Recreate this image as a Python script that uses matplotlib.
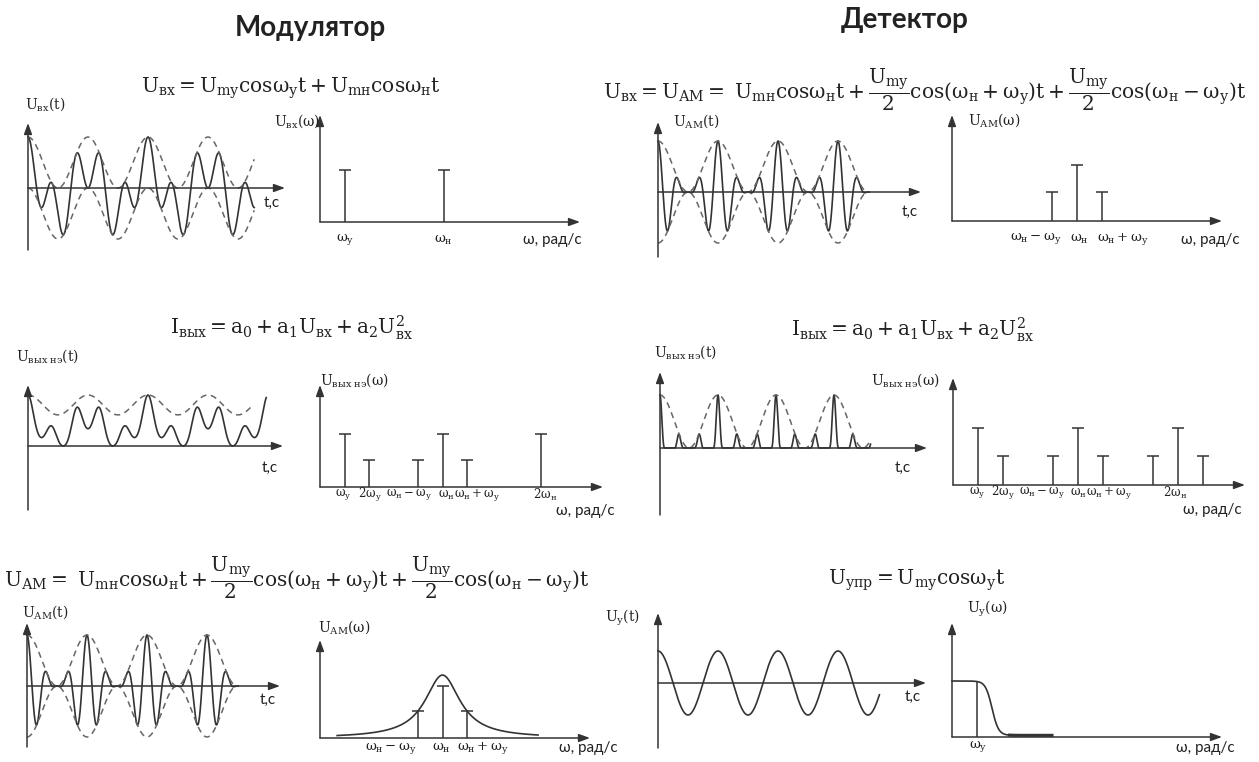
import numpy as np
import matplotlib
matplotlib.use('Agg')
import matplotlib.pyplot as plt
from matplotlib.transforms import offset_copy

W, H = 1259, 762
INK = '#333333'
DASH = '#666666'
LW = 1.1

plt.rcParams['mathtext.fontset'] = 'custom'
plt.rcParams['mathtext.rm'] = 'DejaVu Serif'
plt.rcParams['mathtext.it'] = 'DejaVu Serif:italic'
plt.rcParams['mathtext.bf'] = 'DejaVu Serif:bold'
SANS = ['Lato', 'DejaVu Sans']

# ---------------- values ----------------
# time plots: t in periods of the control signal, amplitude normalised
in_ratio = 2.5              # w_н / w_у on the input plot
in_len = 3.77
nl_coef = [1.0, 0.15]       # a1, a2
nl_len = 3.97
nl_env = [0.805, 0.195]     # dashed envelope: mean, swing
nl_env_len = 3.72
am_ratio = 3                # carrier cycles per envelope period
am_len = 3.52
det_len = 3.63
upr_len = 3.69

# spectra: w in units of w_у, amplitude relative to the carrier line
sp_in_w = [1, 5]
sp_in_a = [1, 1]
sp_in_lab = [r'\omega_{у}', r'\omega_{н}']

sp_nl_w = [1, 2, 4, 5, 6, 9]
sp_nl_a = [1, 0.5, 0.5, 1, 0.5, 1]
sp_nl_lab = [r'\omega_{у}', r'2\omega_{у}', r'\omega_{н} - \omega_{у}',
             r'\omega_{н}', r'\omega_{н} + \omega_{у}', r'2\omega_{н}']

sp_am_w = [4, 5, 6]
sp_am_a = [0.52, 1, 0.52]
sp_am_lab = [r'\omega_{н} - \omega_{у}', r'\omega_{н}', r'\omega_{н} + \omega_{у}']
res_peak = 1.21
res_k = 1.15
res_span = [0.7, 8.9]

sp_det_w = [1, 2, 4, 5, 6, 8, 9, 10]
sp_det_a = [1, 0.5, 0.5, 1, 0.5, 0.5, 1, 0.5]
sp_det_lab = [r'\omega_{у}', r'2\omega_{у}', r'\omega_{н} - \omega_{у}',
              r'\omega_{н}', r'\omega_{н} + \omega_{у}', r'2\omega_{н}']

lpf_cut = 1.6
lpf_slope = 0.13
lpf_floor = 0.03
lpf_span = [0, 4.0]

fig = plt.figure(figsize=(W / 100, H / 100), dpi=100)
fig.patch.set_facecolor('white')


def px(x, y):
    return x / W, 1 - y / H


def ftext(x, y, s, size=10, ha='center', **kw):
    fig.text(*px(x, y), s, ha=ha, va='center', fontsize=size, color='#222222', **kw)


def m(s):
    return r'$\mathrm{' + s + '}$'


def panel(origin, unit, box, x_end, y_top, y_bot):
    ox, oy = origin
    ux, uy = unit
    l, t, r, b = box
    ax = fig.add_axes([l / W, 1 - b / H, (r - l) / W, (b - t) / H])
    ax.set_xlim((l - ox) / ux, (r - ox) / ux)
    ax.set_ylim((oy - b) / uy, (oy - t) / uy)
    ax.axis('off')
    kw = dict(arrowstyle='-|>,head_length=0.55,head_width=0.2', color=INK,
              lw=LW, shrinkA=0, shrinkB=0, mutation_scale=12)
    ax.annotate('', xy=((x_end - ox) / ux, 0), xytext=(0, 0), arrowprops=kw)
    ax.annotate('', xy=(0, (oy - y_top) / uy), xytext=(0, (oy - y_bot) / uy),
                arrowprops=kw)
    return ax


def stems(ax, w, a):
    ax.vlines(w, 0, a, color=INK, lw=LW)
    ax.plot(w, a, ls='none', marker='_', ms=9, mew=LW, color=INK)


def wlabels(ax, xs, labs, has, dy=18, size=9.5):
    tr = offset_copy(ax.transData, fig=fig, y=-dy, units='dots')
    for x, s, ha in zip(xs, labs, has):
        ax.text(x, 0, m(s), transform=tr, ha=ha, va='center', fontsize=size,
                color='#222222')


def dashed(ax, t, y):
    ax.plot(t, y, color=DASH, lw=LW, ls=(0, (4, 3)))


def solid(ax, t, y):
    ax.plot(t, y, color=INK, lw=1.2)


# ---------------- titles and formulas ----------------
ftext(310, 28, 'Модулятор', size=20, weight='bold', family=SANS)
ftext(905, 20, 'Детектор', size=20, weight='bold', family=SANS)

am_tail = (r'U_{mн}cos\omega_{н}t + \dfrac{U_{mу}}{2}cos(\omega_{н} + \omega_{у})t'
           r' + \dfrac{U_{mу}}{2}cos(\omega_{н} - \omega_{у})t')
ftext(291, 88, m(r'U_{вх} = U_{mу}cos\omega_{у}t + U_{mн}cos\omega_{н}t'), size=14.5)
ftext(925, 90, m(r'U_{вх} = U_{АМ} =\ ' + am_tail), size=14.5)
ftext(291, 328, m(r'I_{вых} = a_{0} + a_{1}U_{вх} + a_{2}U_{вх}^{2}'), size=14.5)
ftext(912, 330, m(r'I_{вых} = a_{0} + a_{1}U_{вх} + a_{2}U_{вх}^{2}'), size=14.5)
ftext(297, 578, m(r'U_{АМ} =\ ' + am_tail), size=14.5)
ftext(917, 580, m(r'U_{упр} = U_{mу}cos\omega_{у}t'), size=14.5)

# ---------------- Modulator, row 1: input ----------------
ax = panel((28, 188), (60, 51), (20, 115, 295, 255), 285, 123, 250)
t = np.linspace(0, in_len, 1500)
th = 2 * np.pi * t
solid(ax, t, 0.5 * (np.cos(th) + np.cos(in_ratio * th)))
dashed(ax, t, 0.5 * np.cos(th) + 0.5)
dashed(ax, t, 0.5 * np.cos(th) - 0.5)
ftext(45, 104, m(r'U_{вх}(t)'), size=10)
ftext(272, 203, 't,c', size=11, family=SANS)

ax = panel((320, 222), (24.75, 52), (310, 108, 590, 230), 580, 115, 222)
stems(ax, sp_in_w, sp_in_a)
wlabels(ax, sp_in_w, sp_in_lab, ['center'] * 2)
ftext(320, 121, m(r'U_{вх}(\omega)'), size=10, ha='right')
ftext(552, 240, 'ω, рад/с', size=11, family=SANS)

# ---------------- Modulator, row 2: nonlinear element ----------------
ax = panel((28, 446), (60, 51), (20, 378, 295, 515), 283, 385, 510)
t = np.linspace(0, nl_len, 1500)
th = 2 * np.pi * t
u = np.cos(th) + np.cos(in_ratio * th)
f = nl_coef[0] * u + nl_coef[1] * u ** 2
f = f - f.min()
solid(ax, t, f / f.max())
t = np.linspace(0, nl_env_len, 800)
dashed(ax, t, nl_env[0] + nl_env[1] * np.cos(2 * np.pi * t))
ftext(48, 356, m(r'U_{вых\ нэ}(t)'), size=10)
ftext(270, 468, 't,c', size=11, family=SANS)

ax = panel((320, 487), (24.5, 53), (310, 378, 612, 495), 603, 385, 487)
stems(ax, sp_nl_w, sp_nl_a)
wlabels(ax, [0.95, 2.05, 4.6, 5.15, 5.45, 9.2], sp_nl_lab,
        ['center', 'center', 'right', 'center', 'left', 'center'], dy=8, size=8.5)
ftext(320, 380, m(r'U_{вых\ нэ}(\omega)'), size=10, ha='left')
ftext(585, 511, 'ω, рад/с', size=11, family=SANS)

# ---------------- Modulator, row 3: AM ----------------
ax = panel((27, 686), (60, 51), (20, 615, 290, 752), 280, 623, 747)
t = np.linspace(0, am_len, 1500)
th = 2 * np.pi * t
env = 0.5 * (1 + np.cos(th))
solid(ax, t, env * np.cos(am_ratio * th))
dashed(ax, t, env)
dashed(ax, t, -env)
ftext(45, 612, m(r'U_{АМ}(t)'), size=10)
ftext(268, 700, 't,c', size=11, family=SANS)

ax = panel((320, 738), (24.5, 52), (310, 632, 597, 746), 590, 640, 738)
w = np.linspace(res_span[0], res_span[1], 600)
ax.plot(w, res_peak / (1 + (res_k * (w - sp_am_w[1])) ** 2), color=INK, lw=1.2)
stems(ax, sp_am_w, sp_am_a)
wlabels(ax, [3.95, 4.95, 5.6], sp_am_lab, ['right', 'center', 'left'], dy=10)
ftext(318, 627, m(r'U_{АМ}(\omega)'), size=10, ha='left')
ftext(588, 748, 'ω, рад/с', size=11, family=SANS)

# ---------------- Detector, row 1: AM input ----------------
ax = panel((658, 192), (60, 51), (650, 115, 930, 262), 921, 122, 257)
t = np.linspace(0, am_len, 1500)
th = 2 * np.pi * t
env = 0.5 * (1 + np.cos(th))
solid(ax, t, env * np.cos(am_ratio * th))
dashed(ax, t, env)
dashed(ax, t, -env)
ftext(696, 121, m(r'U_{АМ}(t)'), size=10)
ftext(910, 212, 't,c', size=11, family=SANS)

ax = panel((952, 221), (25, 56), (945, 108, 1232, 228), 1222, 115, 221)
stems(ax, sp_am_w, sp_am_a)
wlabels(ax, [4.4, 5.1, 5.8], sp_am_lab, ['right', 'center', 'left'])
ftext(968, 120, m(r'U_{АМ}(\omega)'), size=10, ha='left')
ftext(1210, 240, 'ω, рад/с', size=11, family=SANS)

# ---------------- Detector, row 2: nonlinear element ----------------
ax = panel((660, 448), (58, 53), (652, 365, 935, 520), 927, 372, 515)
t = np.linspace(0, det_len, 3000)
th = 2 * np.pi * t
env = 0.5 * (1 + np.cos(th))
solid(ax, t, env * np.clip(np.cos(am_ratio * th), 0, None) ** 3)
dashed(ax, t, env)
ftext(686, 352, m(r'U_{вых\ нэ}(t)'), size=10)
ftext(903, 468, 't,c', size=11, family=SANS)

ax = panel((953, 485), (25, 57), (945, 370, 1252, 495), 1245, 378, 485)
stems(ax, sp_det_w, sp_det_a)
wlabels(ax, [0.95, 2.0, 4.5, 5.0, 5.3, 8.9], sp_det_lab,
        ['center', 'center', 'right', 'center', 'left', 'center'], dy=8, size=8.5)
ftext(940, 380, m(r'U_{вых\ нэ}(\omega)'), size=10, ha='right')
ftext(1212, 510, 'ω, рад/с', size=11, family=SANS)

# ---------------- Detector, row 3: control signal ----------------
ax = panel((658, 683), (60, 32), (650, 606, 935, 752), 926, 613, 748)
t = np.linspace(0, upr_len, 1000)
solid(ax, t, np.cos(2 * np.pi * t))
ftext(623, 618, m(r'U_{у}(t)'), size=10)
ftext(913, 697, 't,c', size=11, family=SANS)

ax = panel((952, 737), (25, 56), (945, 615, 1232, 745), 1222, 623, 737)
w = np.linspace(lpf_span[0], lpf_span[1], 500)
resp = lpf_floor + (1 - lpf_floor) / (1 + np.exp((w - lpf_cut) / lpf_slope))
ax.plot(w, resp, color=INK, lw=1.2)
tail = w > 2.3
ax.plot(w[tail], resp[tail], color=INK, lw=2.2)
ax.vlines(sp_in_w[0], 0, 1, color=INK, lw=LW)
wlabels(ax, [1.05], [r'\omega_{у}'], ['center'], dy=10)
ftext(987, 609, m(r'U_{у}(\omega)'), size=10)
ftext(1205, 748, 'ω, рад/с', size=11, family=SANS)

fig.savefig('out.png', dpi=100, facecolor='white')
